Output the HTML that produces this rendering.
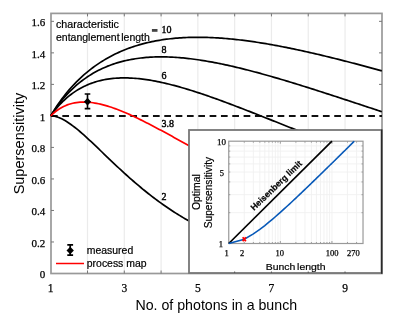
<!DOCTYPE html>
<html><head><meta charset="utf-8"><style>
html,body{margin:0;padding:0;background:#fff;width:400px;height:320px;overflow:hidden;}
svg{display:block;font-family:"Liberation Sans",sans-serif;will-change:transform;}
</style></head><body>
<svg width="400" height="320" viewBox="0 0 400 320">
<rect width="400" height="320" fill="#fff"/>
<line x1="87.50" y1="13.4" x2="87.50" y2="273.5" stroke="#ebebeb" stroke-width="1.2"/>
<line x1="124.29" y1="13.4" x2="124.29" y2="273.5" stroke="#ebebeb" stroke-width="1.2"/>
<line x1="161.08" y1="13.4" x2="161.08" y2="273.5" stroke="#ebebeb" stroke-width="1.2"/>
<line x1="197.87" y1="13.4" x2="197.87" y2="273.5" stroke="#ebebeb" stroke-width="1.2"/>
<line x1="234.66" y1="13.4" x2="234.66" y2="273.5" stroke="#ebebeb" stroke-width="1.2"/>
<line x1="271.45" y1="13.4" x2="271.45" y2="273.5" stroke="#ebebeb" stroke-width="1.2"/>
<line x1="308.24" y1="13.4" x2="308.24" y2="273.5" stroke="#ebebeb" stroke-width="1.2"/>
<line x1="345.03" y1="13.4" x2="345.03" y2="273.5" stroke="#ebebeb" stroke-width="1.2"/>
<rect x="51.0" y="13.4" width="331.0" height="260.1" fill="none" stroke="#999" stroke-width="1.7"/>
<path d="M87.50,273.5 V270.5 M87.50,13.4 V16.4 M124.29,273.5 V270.5 M124.29,13.4 V16.4 M161.08,273.5 V270.5 M161.08,13.4 V16.4 M197.87,273.5 V270.5 M197.87,13.4 V16.4 M234.66,273.5 V270.5 M234.66,13.4 V16.4 M271.45,273.5 V270.5 M271.45,13.4 V16.4 M308.24,273.5 V270.5 M308.24,13.4 V16.4 M345.03,273.5 V270.5 M345.03,13.4 V16.4 M51.0,241.98 H54.0 M382.0,241.98 H379.0 M51.0,210.46 H54.0 M382.0,210.46 H379.0 M51.0,178.94 H54.0 M382.0,178.94 H379.0 M51.0,147.42 H54.0 M382.0,147.42 H379.0 M51.0,115.90 H54.0 M382.0,115.90 H379.0 M51.0,84.38 H54.0 M382.0,84.38 H379.0 M51.0,52.86 H54.0 M382.0,52.86 H379.0 M51.0,21.34 H54.0 M382.0,21.34 H379.0" stroke="#777" stroke-width="1" fill="none"/>
<line x1="51.0" y1="115.90" x2="382.0" y2="115.90" stroke="#111" stroke-width="2" stroke-dasharray="6.7 4.63"/>
<path d="M50.71,115.90 L52.55,112.81 L54.39,109.85 L56.23,107.01 L58.07,104.28 L59.91,101.65 L61.75,99.12 L63.59,96.68 L65.43,94.34 L67.27,92.08 L69.11,89.89 L70.94,87.79 L72.78,85.76 L74.62,83.80 L76.46,81.91 L78.30,80.08 L80.14,78.31 L81.98,76.61 L83.82,74.96 L85.66,73.37 L87.50,71.83 L89.34,70.34 L91.18,68.91 L93.02,67.52 L94.86,66.17 L96.70,64.88 L98.54,63.62 L100.38,62.41 L102.22,61.24 L104.06,60.11 L105.89,59.02 L107.73,57.97 L109.57,56.95 L111.41,55.97 L113.25,55.02 L115.09,54.11 L116.93,53.23 L118.77,52.38 L120.61,51.56 L122.45,50.77 L124.29,50.01 L126.13,49.28 L127.97,48.58 L129.81,47.90 L131.65,47.25 L133.49,46.63 L135.33,46.03 L137.17,45.46 L139.01,44.91 L140.85,44.38 L142.68,43.88 L144.52,43.40 L146.36,42.94 L148.20,42.50 L150.04,42.08 L151.88,41.69 L153.72,41.31 L155.56,40.95 L157.40,40.61 L159.24,40.29 L161.08,39.99 L162.92,39.71 L164.76,39.45 L166.60,39.20 L168.44,38.97 L170.28,38.75 L172.12,38.55 L173.96,38.37 L175.80,38.20 L177.64,38.05 L179.47,37.91 L181.31,37.78 L183.15,37.68 L184.99,37.58 L186.83,37.50 L188.67,37.43 L190.51,37.37 L192.35,37.33 L194.19,37.30 L196.03,37.28 L197.87,37.28 L199.71,37.28 L201.55,37.30 L203.39,37.33 L205.23,37.37 L207.07,37.42 L208.91,37.48 L210.75,37.55 L212.59,37.63 L214.43,37.73 L216.26,37.83 L218.10,37.94 L219.94,38.06 L221.78,38.19 L223.62,38.33 L225.46,38.48 L227.30,38.64 L229.14,38.81 L230.98,38.98 L232.82,39.16 L234.66,39.36 L236.50,39.55 L238.34,39.76 L240.18,39.98 L242.02,40.20 L243.86,40.43 L245.70,40.66 L247.54,40.91 L249.38,41.16 L251.22,41.42 L253.05,41.68 L254.89,41.95 L256.73,42.23 L258.57,42.51 L260.41,42.80 L262.25,43.10 L264.09,43.40 L265.93,43.71 L267.77,44.02 L269.61,44.34 L271.45,44.66 L273.29,44.99 L275.13,45.33 L276.97,45.67 L278.81,46.01 L280.65,46.36 L282.49,46.72 L284.33,47.08 L286.17,47.44 L288.01,47.81 L289.84,48.18 L291.68,48.56 L293.52,48.94 L295.36,49.33 L297.20,49.72 L299.04,50.11 L300.88,50.51 L302.72,50.91 L304.56,51.32 L306.40,51.73 L308.24,52.14 L310.08,52.56 L311.92,52.98 L313.76,53.40 L315.60,53.83 L317.44,54.26 L319.28,54.69 L321.12,55.13 L322.96,55.57 L324.80,56.01 L326.63,56.46 L328.47,56.91 L330.31,57.36 L332.15,57.81 L333.99,58.27 L335.83,58.73 L337.67,59.19 L339.51,59.65 L341.35,60.12 L343.19,60.59 L345.03,61.06 L346.87,61.53 L348.71,62.01 L350.55,62.48 L352.39,62.96 L354.23,63.44 L356.07,63.93 L357.91,64.41 L359.75,64.90 L361.59,65.39 L363.42,65.88 L365.26,66.37 L367.10,66.87 L368.94,67.36 L370.78,67.86 L372.62,68.36 L374.46,68.86 L376.30,69.36 L378.14,69.87 L379.98,70.37 L381.82,70.88" stroke="#000" stroke-width="1.7" fill="none"/>
<path d="M50.71,115.90 L52.55,113.01 L54.39,110.26 L56.23,107.63 L58.07,105.12 L59.91,102.72 L61.75,100.42 L63.59,98.22 L65.43,96.12 L67.27,94.10 L69.11,92.17 L70.94,90.33 L72.78,88.55 L74.62,86.86 L76.46,85.23 L78.30,83.67 L80.14,82.18 L81.98,80.75 L83.82,79.38 L85.66,78.07 L87.50,76.81 L89.34,75.61 L91.18,74.46 L93.02,73.35 L94.86,72.30 L96.70,71.30 L98.54,70.34 L100.38,69.42 L102.22,68.54 L104.06,67.71 L105.89,66.92 L107.73,66.16 L109.57,65.44 L111.41,64.76 L113.25,64.11 L115.09,63.50 L116.93,62.92 L118.77,62.37 L120.61,61.85 L122.45,61.37 L124.29,60.91 L126.13,60.48 L127.97,60.08 L129.81,59.71 L131.65,59.36 L133.49,59.04 L135.33,58.74 L137.17,58.47 L139.01,58.22 L140.85,57.99 L142.68,57.79 L144.52,57.61 L146.36,57.45 L148.20,57.31 L150.04,57.19 L151.88,57.09 L153.72,57.01 L155.56,56.94 L157.40,56.90 L159.24,56.87 L161.08,56.87 L162.92,56.87 L164.76,56.90 L166.60,56.94 L168.44,57.00 L170.28,57.07 L172.12,57.16 L173.96,57.26 L175.80,57.37 L177.64,57.50 L179.47,57.65 L181.31,57.80 L183.15,57.97 L184.99,58.15 L186.83,58.35 L188.67,58.55 L190.51,58.77 L192.35,59.00 L194.19,59.24 L196.03,59.49 L197.87,59.76 L199.71,60.03 L201.55,60.31 L203.39,60.60 L205.23,60.90 L207.07,61.22 L208.91,61.54 L210.75,61.87 L212.59,62.20 L214.43,62.55 L216.26,62.91 L218.10,63.27 L219.94,63.64 L221.78,64.02 L223.62,64.40 L225.46,64.80 L227.30,65.20 L229.14,65.61 L230.98,66.02 L232.82,66.44 L234.66,66.87 L236.50,67.30 L238.34,67.74 L240.18,68.19 L242.02,68.64 L243.86,69.10 L245.70,69.56 L247.54,70.03 L249.38,70.50 L251.22,70.98 L253.05,71.46 L254.89,71.95 L256.73,72.44 L258.57,72.94 L260.41,73.44 L262.25,73.95 L264.09,74.46 L265.93,74.97 L267.77,75.49 L269.61,76.01 L271.45,76.54 L273.29,77.07 L275.13,77.60 L276.97,78.14 L278.81,78.68 L280.65,79.22 L282.49,79.76 L284.33,80.31 L286.17,80.86 L288.01,81.42 L289.84,81.98 L291.68,82.54 L293.52,83.10 L295.36,83.66 L297.20,84.23 L299.04,84.80 L300.88,85.37 L302.72,85.95 L304.56,86.52 L306.40,87.10 L308.24,87.68 L310.08,88.26 L311.92,88.84 L313.76,89.43 L315.60,90.02 L317.44,90.60 L319.28,91.19 L321.12,91.78 L322.96,92.38 L324.80,92.97 L326.63,93.57 L328.47,94.16 L330.31,94.76 L332.15,95.36 L333.99,95.96 L335.83,96.56 L337.67,97.16 L339.51,97.76 L341.35,98.36 L343.19,98.96 L345.03,99.57 L346.87,100.17 L348.71,100.78 L350.55,101.38 L352.39,101.99 L354.23,102.59 L356.07,103.20 L357.91,103.81 L359.75,104.41 L361.59,105.02 L363.42,105.63 L365.26,106.23 L367.10,106.84 L368.94,107.45 L370.78,108.06 L372.62,108.67 L374.46,109.27 L376.30,109.88 L378.14,110.49 L379.98,111.09 L381.82,111.70" stroke="#000" stroke-width="1.7" fill="none"/>
<path d="M50.71,115.90 L52.55,113.35 L54.39,110.94 L56.23,108.67 L58.07,106.52 L59.91,104.49 L61.75,102.57 L63.59,100.76 L65.43,99.05 L67.27,97.44 L69.11,95.91 L70.94,94.48 L72.78,93.12 L74.62,91.84 L76.46,90.64 L78.30,89.51 L80.14,88.45 L81.98,87.46 L83.82,86.52 L85.66,85.65 L87.50,84.84 L89.34,84.08 L91.18,83.37 L93.02,82.72 L94.86,82.11 L96.70,81.56 L98.54,81.05 L100.38,80.58 L102.22,80.16 L104.06,79.78 L105.89,79.43 L107.73,79.13 L109.57,78.86 L111.41,78.63 L113.25,78.43 L115.09,78.27 L116.93,78.13 L118.77,78.03 L120.61,77.96 L122.45,77.92 L124.29,77.91 L126.13,77.92 L127.97,77.96 L129.81,78.03 L131.65,78.12 L133.49,78.23 L135.33,78.37 L137.17,78.52 L139.01,78.70 L140.85,78.91 L142.68,79.13 L144.52,79.37 L146.36,79.63 L148.20,79.91 L150.04,80.20 L151.88,80.52 L153.72,80.85 L155.56,81.19 L157.40,81.55 L159.24,81.93 L161.08,82.32 L162.92,82.73 L164.76,83.15 L166.60,83.58 L168.44,84.02 L170.28,84.48 L172.12,84.95 L173.96,85.43 L175.80,85.92 L177.64,86.42 L179.47,86.94 L181.31,87.46 L183.15,87.99 L184.99,88.54 L186.83,89.09 L188.67,89.65 L190.51,90.22 L192.35,90.79 L194.19,91.38 L196.03,91.97 L197.87,92.57 L199.71,93.18 L201.55,93.79 L203.39,94.41 L205.23,95.04 L207.07,95.67 L208.91,96.31 L210.75,96.95 L212.59,97.60 L214.43,98.25 L216.26,98.91 L218.10,99.57 L219.94,100.24 L221.78,100.92 L223.62,101.59 L225.46,102.27 L227.30,102.96 L229.14,103.64 L230.98,104.34 L232.82,105.03 L234.66,105.73 L236.50,106.43 L238.34,107.13 L240.18,107.84 L242.02,108.55 L243.86,109.26 L245.70,109.97 L247.54,110.68 L249.38,111.40 L251.22,112.12 L253.05,112.84 L254.89,113.56 L256.73,114.28 L258.57,115.01 L260.41,115.73 L262.25,116.46 L264.09,117.19 L265.93,117.92 L267.77,118.65 L269.61,119.37 L271.45,120.11 L273.29,120.84 L275.13,121.57 L276.97,122.30 L278.81,123.03 L280.65,123.76 L282.49,124.49 L284.33,125.22 L286.17,125.95 L288.01,126.69 L289.84,127.42 L291.68,128.15 L293.52,128.88 L295.36,129.61 L297.20,130.33 L299.04,131.06 L300.88,131.79 L302.72,132.52 L304.56,133.24 L306.40,133.97 L308.24,134.69 L310.08,135.41 L311.92,136.13 L313.76,136.85 L315.60,137.57 L317.44,138.29 L319.28,139.01 L321.12,139.72 L322.96,140.43 L324.80,141.15 L326.63,141.86 L328.47,142.57 L330.31,143.27 L332.15,143.98 L333.99,144.68 L335.83,145.39 L337.67,146.09 L339.51,146.79 L341.35,147.48 L343.19,148.18 L345.03,148.87 L346.87,149.56 L348.71,150.25 L350.55,150.94 L352.39,151.63 L354.23,152.31 L356.07,152.99 L357.91,153.67 L359.75,154.35 L361.59,155.02 L363.42,155.69 L365.26,156.36 L367.10,157.03 L368.94,157.70 L370.78,158.36 L372.62,159.02 L374.46,159.68 L376.30,160.34 L378.14,161.00 L379.98,161.65 L381.82,162.30" stroke="#000" stroke-width="1.7" fill="none"/>
<path d="M50.71,115.90 L52.55,116.00 L54.39,116.27 L56.23,116.70 L58.07,117.29 L59.91,118.00 L61.75,118.84 L63.59,119.78 L65.43,120.83 L67.27,121.96 L69.11,123.18 L70.94,124.46 L72.78,125.82 L74.62,127.23 L76.46,128.70 L78.30,130.21 L80.14,131.77 L81.98,133.36 L83.82,134.98 L85.66,136.64 L87.50,138.32 L89.34,140.02 L91.18,141.73 L93.02,143.47 L94.86,145.21 L96.70,146.96 L98.54,148.72 L100.38,150.49 L102.22,152.26 L104.06,154.03 L105.89,155.79 L107.73,157.56 L109.57,159.32 L111.41,161.07 L113.25,162.82 L115.09,164.55 L116.93,166.28 L118.77,168.00 L120.61,169.71 L122.45,171.40 L124.29,173.08 L126.13,174.75 L127.97,176.40 L129.81,178.03 L131.65,179.66 L133.49,181.26 L135.33,182.85 L137.17,184.42 L139.01,185.97 L140.85,187.51 L142.68,189.03 L144.52,190.53 L146.36,192.01 L148.20,193.47 L150.04,194.91 L151.88,196.34 L153.72,197.74 L155.56,199.13 L157.40,200.49 L159.24,201.84 L161.08,203.17 L162.92,204.48 L164.76,205.77 L166.60,207.04 L168.44,208.29 L170.28,209.52 L172.12,210.74 L173.96,211.93 L175.80,213.11 L177.64,214.27 L179.47,215.40 L181.31,216.52 L183.15,217.63 L184.99,218.71 L186.83,219.78 L188.67,220.83 L190.51,221.86 L192.35,222.87 L194.19,223.87 L196.03,224.85 L197.87,225.81 L199.71,226.75 L201.55,227.68 L203.39,228.59 L205.23,229.49 L207.07,230.37 L208.91,231.24 L210.75,232.09 L212.59,232.92 L214.43,233.74 L216.26,234.54 L218.10,235.33 L219.94,236.11 L221.78,236.87 L223.62,237.62 L225.46,238.35 L227.30,239.07 L229.14,239.77 L230.98,240.47 L232.82,241.15 L234.66,241.81 L236.50,242.47 L238.34,243.11 L240.18,243.74 L242.02,244.35 L243.86,244.96 L245.70,245.55 L247.54,246.13 L249.38,246.71 L251.22,247.26 L253.05,247.81 L254.89,248.35 L256.73,248.88 L258.57,249.40 L260.41,249.90 L262.25,250.40 L264.09,250.89 L265.93,251.36 L267.77,251.83 L269.61,252.29 L271.45,252.74 L273.29,253.18 L275.13,253.61 L276.97,254.04 L278.81,254.45 L280.65,254.86 L282.49,255.25 L284.33,255.64 L286.17,256.02 L288.01,256.40 L289.84,256.76 L291.68,257.12 L293.52,257.48 L295.36,257.82 L297.20,258.16 L299.04,258.49 L300.88,258.81 L302.72,259.13 L304.56,259.44 L306.40,259.74 L308.24,260.04 L310.08,260.33 L311.92,260.62 L313.76,260.90 L315.60,261.17 L317.44,261.44 L319.28,261.70 L321.12,261.96 L322.96,262.21 L324.80,262.45 L326.63,262.69 L328.47,262.93 L330.31,263.16 L332.15,263.39 L333.99,263.61 L335.83,263.82 L337.67,264.04 L339.51,264.24 L341.35,264.45 L343.19,264.65 L345.03,264.84 L346.87,265.03 L348.71,265.22 L350.55,265.40 L352.39,265.58 L354.23,265.75 L356.07,265.92 L357.91,266.09 L359.75,266.25 L361.59,266.41 L363.42,266.57 L365.26,266.72 L367.10,266.87 L368.94,267.02 L370.78,267.16 L372.62,267.31 L374.46,267.44 L376.30,267.58 L378.14,267.71 L379.98,267.84 L381.82,267.96" stroke="#000" stroke-width="1.7" fill="none"/>
<path d="M50.71,115.90 L52.55,114.12 L54.39,112.50 L56.23,111.03 L58.07,109.71 L59.91,108.52 L61.75,107.45 L63.59,106.50 L65.43,105.66 L67.27,104.92 L69.11,104.28 L70.94,103.73 L72.78,103.27 L74.62,102.89 L76.46,102.59 L78.30,102.36 L80.14,102.20 L81.98,102.11 L83.82,102.08 L85.66,102.10 L87.50,102.19 L89.34,102.33 L91.18,102.52 L93.02,102.76 L94.86,103.04 L96.70,103.37 L98.54,103.74 L100.38,104.14 L102.22,104.59 L104.06,105.07 L105.89,105.58 L107.73,106.13 L109.57,106.71 L111.41,107.31 L113.25,107.94 L115.09,108.60 L116.93,109.28 L118.77,109.99 L120.61,110.72 L122.45,111.47 L124.29,112.23 L126.13,113.02 L127.97,113.83 L129.81,114.65 L131.65,115.49 L133.49,116.34 L135.33,117.20 L137.17,118.08 L139.01,118.97 L140.85,119.88 L142.68,120.79 L144.52,121.71 L146.36,122.65 L148.20,123.59 L150.04,124.54 L151.88,125.49 L153.72,126.46 L155.56,127.43 L157.40,128.40 L159.24,129.39 L161.08,130.37 L162.92,131.36 L164.76,132.36 L166.60,133.36 L168.44,134.36 L170.28,135.36 L172.12,136.37 L173.96,137.38 L175.80,138.39 L177.64,139.40 L179.47,140.41 L181.31,141.42 L183.15,142.43 L184.99,143.44 L186.83,144.46 L188.67,145.47 L190.51,146.48 L192.35,147.49 L194.19,148.49 L196.03,149.50 L197.87,150.50 L199.71,151.51 L201.55,152.51 L203.39,153.50 L205.23,154.50 L207.07,155.49 L208.91,156.48 L210.75,157.47 L212.59,158.45 L214.43,159.43 L216.26,160.41 L218.10,161.38 L219.94,162.35 L221.78,163.31 L223.62,164.27 L225.46,165.23 L227.30,166.18 L229.14,167.13 L230.98,168.07 L232.82,169.01 L234.66,169.94 L236.50,170.87 L238.34,171.79 L240.18,172.71 L242.02,173.63 L243.86,174.53 L245.70,175.44 L247.54,176.34 L249.38,177.23 L251.22,178.12 L253.05,179.00 L254.89,179.88 L256.73,180.75 L258.57,181.62 L260.41,182.48 L262.25,183.33 L264.09,184.18 L265.93,185.03 L267.77,185.86 L269.61,186.70 L271.45,187.52 L273.29,188.35 L275.13,189.16 L276.97,189.97 L278.81,190.78 L280.65,191.57 L282.49,192.37 L284.33,193.15 L286.17,193.93 L288.01,194.71 L289.84,195.48 L291.68,196.24 L293.52,197.00 L295.36,197.75 L297.20,198.50 L299.04,199.24 L300.88,199.97 L302.72,200.70 L304.56,201.43 L306.40,202.14 L308.24,202.85 L310.08,203.56 L311.92,204.26 L313.76,204.96 L315.60,205.64 L317.44,206.33 L319.28,207.00 L321.12,207.68 L322.96,208.34 L324.80,209.00 L326.63,209.66 L328.47,210.31 L330.31,210.95 L332.15,211.59 L333.99,212.22 L335.83,212.85 L337.67,213.47 L339.51,214.09 L341.35,214.70 L343.19,215.31 L345.03,215.91 L346.87,216.50 L348.71,217.09 L350.55,217.68 L352.39,218.26 L354.23,218.83 L356.07,219.40 L357.91,219.96 L359.75,220.52 L361.59,221.08 L363.42,221.62 L365.26,222.17 L367.10,222.71 L368.94,223.24 L370.78,223.77 L372.62,224.29 L374.46,224.81 L376.30,225.32 L378.14,225.83 L379.98,226.34 L381.82,226.84" stroke="#f00" stroke-width="1.7" fill="none"/>
<path d="M87.50,94 V108.6 M84.70,94 H90.30 M84.70,108.6 H90.30" stroke="#000" stroke-width="1.6" fill="none"/>
<path d="M87.50,97.82 L91.10,101.72 L87.50,105.62 L83.90,101.72 Z" fill="#000"/>
<text x="45.3" y="278.30" font-family="Liberation Serif, serif" stroke="#000" stroke-width="0.25" font-size="11" text-anchor="end" fill="#000">0</text>
<text x="45.3" y="246.78" font-family="Liberation Serif, serif" stroke="#000" stroke-width="0.25" font-size="11" text-anchor="end" fill="#000">0.2</text>
<text x="45.3" y="215.26" font-family="Liberation Serif, serif" stroke="#000" stroke-width="0.25" font-size="11" text-anchor="end" fill="#000">0.4</text>
<text x="45.3" y="183.74" font-family="Liberation Serif, serif" stroke="#000" stroke-width="0.25" font-size="11" text-anchor="end" fill="#000">0.6</text>
<text x="45.3" y="152.22" font-family="Liberation Serif, serif" stroke="#000" stroke-width="0.25" font-size="11" text-anchor="end" fill="#000">0.8</text>
<text x="45.3" y="120.70" font-family="Liberation Serif, serif" stroke="#000" stroke-width="0.25" font-size="11" text-anchor="end" fill="#000">1</text>
<text x="45.3" y="89.18" font-family="Liberation Serif, serif" stroke="#000" stroke-width="0.25" font-size="11" text-anchor="end" fill="#000">1.2</text>
<text x="45.3" y="57.66" font-family="Liberation Serif, serif" stroke="#000" stroke-width="0.25" font-size="11" text-anchor="end" fill="#000">1.4</text>
<text x="45.3" y="26.14" font-family="Liberation Serif, serif" stroke="#000" stroke-width="0.25" font-size="11" text-anchor="end" fill="#000">1.6</text>
<text x="50.71" y="291.7" font-family="Liberation Serif, serif" stroke="#000" stroke-width="0.25" font-size="11.5" text-anchor="middle" fill="#000">1</text>
<text x="124.29" y="291.7" font-family="Liberation Serif, serif" stroke="#000" stroke-width="0.25" font-size="11.5" text-anchor="middle" fill="#000">3</text>
<text x="197.87" y="291.7" font-family="Liberation Serif, serif" stroke="#000" stroke-width="0.25" font-size="11.5" text-anchor="middle" fill="#000">5</text>
<text x="271.45" y="291.7" font-family="Liberation Serif, serif" stroke="#000" stroke-width="0.25" font-size="11.5" text-anchor="middle" fill="#000">7</text>
<text x="345.03" y="291.7" font-family="Liberation Serif, serif" stroke="#000" stroke-width="0.25" font-size="11.5" text-anchor="middle" fill="#000">9</text>
<text x="216.3" y="309.8" font-family="Liberation Sans, sans-serif" font-size="14.2" text-anchor="middle" fill="#000">No. of photons in a bunch</text>
<text transform="translate(23.8,143.6) rotate(-90)" x="0" y="0" font-family="Liberation Sans, sans-serif" font-size="14.5" text-anchor="middle" fill="#000">Supersensitivity</text>
<text x="56" y="27.7" font-family="Liberation Sans, sans-serif" stroke="#000" stroke-width="0.2" font-size="10.7" fill="#000">characteristic</text>
<text x="56" y="40.8" font-family="Liberation Sans, sans-serif" stroke="#000" stroke-width="0.2" font-size="10.5" word-spacing="-1.3" fill="#000">entanglement length</text>
<rect x="151.9" y="29" width="5.6" height="2.8" fill="#444"/>
<text x="161.6" y="33.1" font-family="Liberation Serif, serif" stroke="#000" stroke-width="0.4" font-size="10" fill="#000">10</text>
<text x="161.4" y="53.1" font-family="Liberation Serif, serif" stroke="#000" stroke-width="0.4" font-size="10" fill="#000">8</text>
<text x="161.4" y="78.8" font-family="Liberation Serif, serif" stroke="#000" stroke-width="0.4" font-size="10" fill="#000">6</text>
<text x="161.6" y="127" font-family="Liberation Serif, serif" stroke="#000" stroke-width="0.4" font-size="10" fill="#000">3.8</text>
<text x="161.6" y="199.7" font-family="Liberation Serif, serif" stroke="#000" stroke-width="0.4" font-size="10" fill="#000">2</text>
<path d="M70.2,244.9 V255.1 M67.3,244.9 H73.1 M67.3,255.1 H73.1" stroke="#000" stroke-width="1.7" fill="none"/>
<path d="M70.2,246.8 L73.9,250.5 L70.2,254.2 L66.5,250.5 Z" fill="#000"/>
<text x="86.8" y="253.8" font-family="Liberation Sans, sans-serif" stroke="#000" stroke-width="0.2" font-size="10.45" fill="#000">measured</text>
<line x1="56" y1="263.5" x2="84" y2="263.5" stroke="#f00" stroke-width="1.5"/>
<text x="86.8" y="267.1" font-family="Liberation Sans, sans-serif" stroke="#000" stroke-width="0.2" font-size="10.45" fill="#000">process map</text>
<rect x="189" y="130" width="192.5" height="143" fill="#fff" stroke="#777" stroke-width="1.8"/>
<line x1="381.7" y1="129.5" x2="381.7" y2="273.8" stroke="#2a2a2a" stroke-width="1.4"/>
<path d="M244.28,141.20 V243.50 M253.37,141.20 V243.50 M259.82,141.20 V243.50 M264.82,141.20 V243.50 M268.90,141.20 V243.50 M272.36,141.20 V243.50 M275.35,141.20 V243.50 M277.99,141.20 V243.50 M280.35,141.20 V243.50 M295.88,141.20 V243.50 M304.97,141.20 V243.50 M311.42,141.20 V243.50 M316.42,141.20 V243.50 M320.50,141.20 V243.50 M323.96,141.20 V243.50 M326.95,141.20 V243.50 M329.59,141.20 V243.50 M331.95,141.20 V243.50 M347.48,141.20 V243.50 M356.57,141.20 V243.50 M228.75,212.70 H363.02 M228.75,194.69 H363.02 M228.75,181.91 H363.02 M228.75,172.00 H363.02 M228.75,163.90 H363.02 M228.75,157.05 H363.02 M228.75,151.11 H363.02 M228.75,145.88 H363.02" stroke="#f0f0f0" stroke-width="0.9" fill="none"/>
<path d="M244.28,243.50 V242.00 M244.28,141.20 V142.70 M253.37,243.50 V242.00 M253.37,141.20 V142.70 M259.82,243.50 V242.00 M259.82,141.20 V142.70 M264.82,243.50 V242.00 M264.82,141.20 V142.70 M268.90,243.50 V242.00 M268.90,141.20 V142.70 M272.36,243.50 V242.00 M272.36,141.20 V142.70 M275.35,243.50 V242.00 M275.35,141.20 V142.70 M277.99,243.50 V242.00 M277.99,141.20 V142.70 M280.35,243.50 V241.00 M280.35,141.20 V143.70 M295.88,243.50 V242.00 M295.88,141.20 V142.70 M304.97,243.50 V242.00 M304.97,141.20 V142.70 M311.42,243.50 V242.00 M311.42,141.20 V142.70 M316.42,243.50 V242.00 M316.42,141.20 V142.70 M320.50,243.50 V242.00 M320.50,141.20 V142.70 M323.96,243.50 V242.00 M323.96,141.20 V142.70 M326.95,243.50 V242.00 M326.95,141.20 V142.70 M329.59,243.50 V242.00 M329.59,141.20 V142.70 M331.95,243.50 V241.00 M331.95,141.20 V143.70 M347.48,243.50 V242.00 M347.48,141.20 V142.70 M356.57,243.50 V242.00 M356.57,141.20 V142.70 M228.75,212.70 H230.25 M363.02,212.70 H361.52 M228.75,194.69 H230.25 M363.02,194.69 H361.52 M228.75,181.91 H230.25 M363.02,181.91 H361.52 M228.75,172.00 H230.25 M363.02,172.00 H361.52 M228.75,163.90 H230.25 M363.02,163.90 H361.52 M228.75,157.05 H230.25 M363.02,157.05 H361.52 M228.75,151.11 H230.25 M363.02,151.11 H361.52 M228.75,145.88 H230.25 M363.02,145.88 H361.52" stroke="#888" stroke-width="0.8" fill="none"/>
<rect x="228.75" y="141.20" width="134.27" height="102.30" fill="none" stroke="#999" stroke-width="1.2"/>
<line x1="228.75" y1="243.50" x2="331.95" y2="141.20" stroke="#000" stroke-width="1.7"/>
<path d="M228.75,243.50 L244.28,239.21 L253.37,233.90 L259.82,229.37 L264.82,225.52 L268.90,222.21 L272.36,219.31 L275.35,216.74 L277.99,214.44 L280.35,212.34 L282.49,210.43 L284.44,208.66 L286.23,207.03 L287.89,205.50 L289.44,204.08 L290.88,202.74 L292.24,201.47 L293.52,200.27 L294.73,199.14 L295.88,198.06 L296.98,197.02 L298.02,196.04 L299.02,195.10 L299.97,194.19 L300.88,193.32 L301.76,192.48 L302.61,191.68 L303.42,190.90 L304.21,190.15 L304.97,189.42 L305.70,188.71 L306.42,188.03 L307.11,187.37 L307.77,186.73 L308.42,186.10 L309.06,185.49 L309.67,184.90 L310.27,184.32 L310.85,183.76 L311.42,183.21 L311.97,182.68 L312.51,182.16 L313.04,181.65 L313.55,181.15 L314.06,180.66 L314.55,180.18 L315.03,179.71 L315.50,179.26 L315.96,178.81 L316.42,178.37 L316.86,177.94 L317.30,177.51 L317.72,177.10 L318.14,176.69 L318.55,176.29 L318.96,175.90 L319.35,175.51 L319.74,175.13 L320.13,174.76 L320.50,174.39 L320.87,174.03 L321.24,173.68 L321.60,173.33 L321.95,172.98 L322.30,172.64 L322.64,172.31 L322.98,171.98 L323.31,171.65 L323.63,171.34 L323.96,171.02 L324.27,170.71 L324.59,170.40 L324.90,170.10 L325.20,169.80 L325.50,169.51 L325.80,169.22 L326.09,168.93 L326.38,168.65 L326.67,168.37 L326.95,168.09 L327.23,167.82 L327.50,167.55 L327.77,167.29 L328.04,167.02 L328.31,166.76 L328.57,166.51 L328.83,166.25 L329.09,166.00 L329.34,165.75 L329.59,165.51 L329.84,165.27 L330.08,165.02 L330.32,164.79 L330.56,164.55 L330.80,164.32 L331.04,164.09 L331.27,163.86 L331.50,163.64 L331.72,163.41 L331.95,163.19 L332.17,162.97 L332.39,162.76 L332.61,162.54 L332.83,162.33 L333.04,162.12 L333.26,161.91 L333.47,161.70 L333.67,161.50 L333.88,161.30 L334.09,161.09 L334.29,160.90 L334.49,160.70 L334.69,160.50 L334.89,160.31 L335.08,160.12 L335.28,159.93 L335.47,159.74 L335.66,159.55 L335.85,159.36 L336.04,159.18 L336.22,159.00 L336.41,158.81 L336.59,158.63 L336.77,158.46 L336.95,158.28 L337.13,158.10 L337.31,157.93 L337.48,157.76 L337.66,157.59 L337.83,157.42 L338.00,157.25 L338.17,157.08 L338.34,156.91 L338.51,156.75 L338.68,156.58 L338.84,156.42 L339.00,156.26 L339.17,156.10 L339.33,155.94 L339.49,155.78 L339.65,155.62 L339.81,155.47 L339.97,155.31 L340.12,155.16 L340.28,155.01 L340.43,154.86 L340.58,154.70 L340.74,154.56 L340.89,154.41 L341.04,154.26 L341.19,154.11 L341.33,153.97 L341.48,153.82 L341.63,153.68 L341.77,153.54 L341.92,153.39 L342.06,153.25 L342.20,153.11 L342.34,152.97 L342.48,152.83 L342.62,152.70 L342.76,152.56 L342.90,152.42 L343.04,152.29 L343.17,152.16 L343.31,152.02 L343.44,151.89 L343.58,151.76 L343.71,151.63 L343.84,151.50 L343.97,151.37 L344.10,151.24 L344.23,151.11 L344.36,150.98 L344.49,150.86 L344.62,150.73 L344.75,150.60 L344.87,150.48 L345.00,150.36 L345.12,150.23 L345.25,150.11 L345.37,149.99 L345.49,149.87 L345.61,149.75 L345.74,149.63 L345.86,149.51 L345.98,149.39 L346.10,149.27 L346.22,149.16 L346.33,149.04 L346.45,148.92 L346.57,148.81 L346.68,148.69 L346.80,148.58 L346.92,148.46 L347.03,148.35 L347.14,148.24 L347.26,148.13 L347.37,148.02 L347.48,147.91 L347.59,147.80 L347.71,147.69 L347.82,147.58 L347.93,147.47 L348.04,147.36 L348.15,147.25 L348.25,147.14 L348.36,147.04 L348.47,146.93 L348.58,146.83 L348.68,146.72 L348.79,146.62 L348.89,146.51 L349.00,146.41 L349.10,146.31 L349.21,146.20 L349.31,146.10 L349.41,146.00 L349.52,145.90 L349.62,145.80 L349.72,145.70 L349.82,145.60 L349.92,145.50 L350.02,145.40 L350.12,145.30 L350.22,145.20 L350.32,145.11 L350.42,145.01 L350.52,144.91 L350.62,144.82 L350.71,144.72 L350.81,144.62 L350.91,144.53 L351.00,144.43 L351.10,144.34 L351.19,144.25 L351.29,144.15 L351.38,144.06 L351.48,143.97 L351.57,143.87 L351.66,143.78 L351.75,143.69 L351.85,143.60 L351.94,143.51 L352.03,143.42 L352.12,143.33 L352.21,143.24 L352.30,143.15 L352.39,143.06 L352.48,142.97 L352.57,142.88 L352.66,142.79 L352.75,142.71 L352.84,142.62 L352.93,142.53 L353.02,142.45 L353.10,142.36 L353.19,142.27 L353.28,142.19 L353.36,142.10 L353.45,142.02 L353.53,141.93 L353.62,141.85 L353.70,141.76 L353.79,141.68 L353.87,141.60 L353.96,141.51 L354.04,141.43 L354.13,141.35 L354.21,141.27" stroke="#0658b8" stroke-width="1.6" fill="none"/>
<path d="M242.68,237.21 L245.88,241.21 M242.68,241.21 L245.88,237.21" stroke="#f00" stroke-width="1.8"/>
<text x="226" y="145.2" font-family="Liberation Serif, serif" stroke="#000" stroke-width="0.25" font-size="9" text-anchor="end" fill="#000">10</text>
<text x="224" y="175.7" font-family="Liberation Serif, serif" stroke="#000" stroke-width="0.25" font-size="8.5" text-anchor="end" fill="#000">5</text>
<text x="223" y="246.6" font-family="Liberation Serif, serif" stroke="#000" stroke-width="0.25" font-size="8.5" text-anchor="end" fill="#000">1</text>
<text x="226.6" y="256" font-family="Liberation Serif, serif" stroke="#000" stroke-width="0.25" font-size="8.5" text-anchor="middle" fill="#000">1</text>
<text x="242" y="256" font-family="Liberation Serif, serif" stroke="#000" stroke-width="0.25" font-size="8.5" text-anchor="middle" fill="#000">2</text>
<text x="279.8" y="256" font-family="Liberation Serif, serif" stroke="#000" stroke-width="0.25" font-size="8.5" text-anchor="middle" fill="#000">10</text>
<text x="332" y="256" font-family="Liberation Serif, serif" stroke="#000" stroke-width="0.25" font-size="8.5" text-anchor="middle" fill="#000">100</text>
<text x="353.4" y="256" font-family="Liberation Serif, serif" stroke="#000" stroke-width="0.25" font-size="8.5" text-anchor="middle" fill="#000">270</text>
<text transform="translate(295.6,269.6) scale(1,0.92)" font-family="Liberation Sans, sans-serif" stroke="#000" stroke-width="0.2" font-size="10.45" word-spacing="-1.1" text-anchor="middle" fill="#000">Bunch length</text>
<path d="M234.66,273.0 V271.5 M271.45,273.0 V271.5 M308.24,273.0 V271.5 M345.03,273.0 V271.5" stroke="#555" stroke-width="1" fill="none"/>
<text transform="translate(199.6,192.1) rotate(-90)" font-family="Liberation Sans, sans-serif" stroke="#000" stroke-width="0.2" font-size="10.4" text-anchor="middle" fill="#000">Optimal</text>
<text transform="translate(212.3,192.6) rotate(-90)" font-family="Liberation Sans, sans-serif" stroke="#000" stroke-width="0.2" font-size="10.2" text-anchor="middle" fill="#000">Supersensitivity</text>
<text transform="translate(278.3,187.6) rotate(-44)" font-family="Liberation Sans, sans-serif" stroke="#000" stroke-width="0.2" font-size="8.7" font-weight="bold" text-anchor="middle" fill="#000">Heisenberg limit</text>
</svg>
</body></html>
